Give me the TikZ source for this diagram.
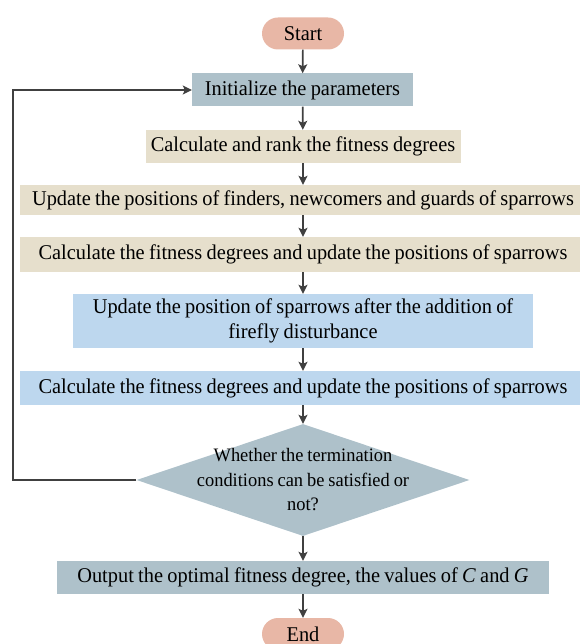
\documentclass[tikz,border=0pt]{standalone}
\usepackage{fontspec}
\setmainfont[FakeStretch=0.97,WordSpace=0.85]{Liberation Serif}
\usetikzlibrary{shapes.geometric,arrows.meta,positioning}
\definecolor{pillred}{RGB}{232,183,166}
\definecolor{slate}{RGB}{174,193,202}
\definecolor{sand}{RGB}{230,223,204}
\definecolor{skyblue}{RGB}{189,215,238}
\definecolor{arrowgray}{RGB}{64,64,64}

\begin{document}
\begin{tikzpicture}[x=1pt,y=-1pt,
  every node/.style={font=\fontsize{21}{25}\selectfont, inner sep=0pt, align=center},
  pill/.style={fill=pillred, rounded corners=16pt, minimum width=82pt, minimum height=32pt},
  box/.style={minimum height=33pt},
  flow/.style={draw=arrowgray, line width=1.7pt, -{Stealth[length=9pt,width=9pt,inset=2pt]}}]
\useasboundingbox (0,0) rectangle (579,644);

\node[pill] (start) at (303,33.5) {Start};
\node[box, fill=slate, minimum width=221pt] (init) at (302.5,90) {Initialize the parameters};
\node[box, fill=sand, minimum width=315pt] (rank) at (303,146.5) {Calculate and rank the fitness degrees};
\node[box, fill=sand, minimum width=566pt, minimum height=30pt] (finders) at (303,200) {Update the positions of finders, newcomers and guards of sparrows};
\node[box, fill=sand, minimum width=566pt, minimum height=35pt] (fitness) at (303,254.5) {Calculate the fitness degrees and update the positions of sparrows};
\node[box, fill=skyblue, minimum width=460pt, minimum height=54pt] (firefly) at (303,321) {Update the position of sparrows after the addition of\\firefly disturbance};
\node[box, fill=skyblue, minimum width=566pt, minimum height=34pt] (refit) at (303,388) {Calculate the fitness degrees and update the positions of sparrows};
\node[diamond, fill=slate, minimum width=333pt, minimum height=112pt] (check) at (303,480) {};
\node[font=\fontsize{19}{24.5}\selectfont] (checktext) at (check.center) {Whether the termination\\conditions can be satisfied or\\not?};
\node[box, fill=slate, minimum width=492pt] (output) at (303,577.5) {Output the optimal fitness degree, the values of \textit{C} and \textit{G}};
\node[pill] (end) at (303,634) {End};

\draw[flow] (start) -- (init);
\draw[flow] (init) -- (rank);
\draw[flow] (rank) -- (finders);
\draw[flow] (finders) -- (fitness);
\draw[flow] (fitness) -- (firefly);
\draw[flow] (firefly) -- (refit);
\draw[flow] (refit) -- (check);
\draw[flow] (check) -- (output);
\draw[flow] (output) -- (end);
\draw[flow] (check.west) -| (13,90) -- (init.west);
\end{tikzpicture}
\end{document}
